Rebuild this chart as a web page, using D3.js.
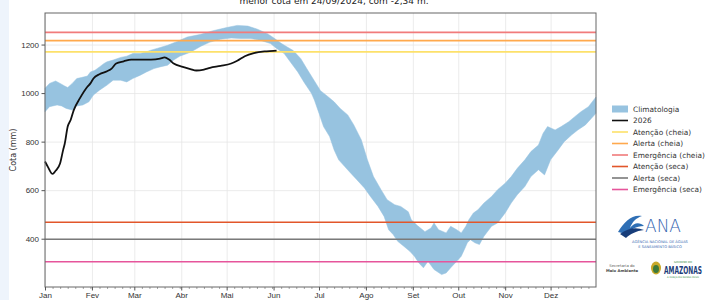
<!DOCTYPE html>
<html>
<head>
<meta charset="utf-8">
<script src="https://cdn.jsdelivr.net/npm/d3@7.9.0/dist/d3.min.js"></script>
<style>
  body { margin: 0; background: #fff; }
  svg { display: block; font-family: "DejaVu Sans", sans-serif; }
</style>
</head>
<body>
<svg id="chart" width="705" height="300"></svg>
<script>
// Climatologia band (day of year, cota mm)
const upperDays = [0,3,7,10,13,15,18,21,24,28,30,33,36,39,41,45,50,54,58,63,67,70,74,81,87,94,103,111,120,127,134,140,147,151,156,160,164,169,173,178,182,187,191,195,200,204,209,213,217,222,226,231,235,240,242,246,251,255,257,260,265,268,272,275,278,280,283,286,290,295,299,304,308,312,317,321,326,329,332,337,341,346,350,354,359,364];
const upperVals = [1020,1040,1050,1040,1029,1023,1040,1060,1064,1070,1087,1094,1108,1122,1129,1136,1147,1152,1163,1163,1170,1177,1184,1197,1212,1231,1242,1257,1270,1279,1276,1264,1245,1228,1205,1190,1175,1142,1100,1050,1010,985,964,937,910,869,807,725,656,602,561,540,533,511,478,454,429,444,465,437,424,451,437,424,451,478,506,519,547,574,602,629,656,690,725,759,786,834,862,848,862,882,903,923,944,984];
const lowerDays = [0,3,8,11,14,18,21,25,29,32,36,41,45,50,54,58,63,67,72,76,81,85,89,96,103,109,116,123,129,136,142,149,153,158,162,167,171,176,178,181,184,188,191,194,198,202,206,211,215,220,224,227,230,233,237,241,244,247,250,253,257,262,265,268,272,275,277,279,281,284,287,290,295,299,304,308,312,317,321,326,330,334,339,343,348,352,357,361,364];
const lowerVals = [923,944,951,947,937,930,947,951,964,992,1012,1033,1053,1053,1046,1060,1074,1087,1101,1108,1115,1136,1152,1168,1193,1210,1222,1227,1225,1225,1218,1204,1184,1163,1129,1087,1046,999,971,917,862,821,766,725,697,670,643,609,574,533,492,437,417,389,369,348,328,300,280,307,273,252,259,280,307,328,355,383,396,383,376,410,451,465,506,547,581,615,656,684,663,725,766,800,828,848,869,896,917];

// 2026 series
const obsDays = [0,2,5,7,10,12,13,15,17,19,23,28,30,32,36,41,44,47,52,57,63,70,76,79,82,85,91,96,100,105,109,116,123,127,132,138,145,151,153];
const obsVals = [718,695,667,680,711,766,790,862,890,930,978,1026,1040,1060,1078,1090,1101,1122,1131,1138,1138,1138,1142,1147,1138,1122,1108,1099,1093,1097,1104,1112,1122,1133,1152,1165,1172,1174,1175];

// Reference levels
const levelNames = ["Atenção (cheia)", "Alerta (cheia)", "Emergência (cheia)", "Atenção (seca)", "Alerta (seca)", "Emergência (seca)"];
const levelVals = [1170, 1216, 1250, 468, 398, 305];
const levelColors = ["#fde16a", "#ffa94d", "#f17b7b", "#e2562a", "#7a7a7a", "#e6559b"];

const monthLabels = ["Jan","Fev","Mar","Abr","Mai","Jun","Jul","Ago","Set","Out","Nov","Dez"];
const yTicks = [400, 600, 800, 1000, 1200];

const bandColor = "#97c3e0";
const start = new Date(2026, 0, 1);
const toDate = (d) => d3.timeDay.offset(start, d);

const margin = { top: 13, right: 109, bottom: 13, left: 45 };
const width = 705, height = 300;
const area = {
  left: margin.left,
  right: width - margin.right,
  top: margin.top,
  bottom: height - margin.bottom,
};

const svg = d3.select("#chart");

// light strip on the left edge
svg.append("rect").attr("x", 0).attr("y", 0).attr("width", 9).attr("height", height).attr("fill", "#eef4fc");

const xScale = d3.scaleTime()
  .domain([start, new Date(2026, 11, 31)])
  .range([area.left, area.right]);
const yScale = d3.scaleLinear()
  .domain([201, 1330])
  .range([area.bottom, area.top]);

// gridlines
svg.append("g")
  .attr("transform", `translate(0, ${area.bottom})`)
  .call(d3.axisBottom(xScale).ticks(d3.timeMonth.every(1)).tickFormat("").tickSize(-(area.bottom - area.top)))
  .call((g) => g.select(".domain").remove())
  .call((g) => g.selectAll("line").attr("stroke", "#e6e6e6").attr("stroke-width", 0.8));
svg.append("g")
  .attr("transform", `translate(${area.left}, 0)`)
  .call(d3.axisLeft(yScale).tickValues(yTicks).tickFormat("").tickSize(-(area.right - area.left)))
  .call((g) => g.select(".domain").remove())
  .call((g) => g.selectAll("line").attr("stroke", "#e6e6e6").attr("stroke-width", 0.8));

// climatology band
const upper = upperDays.map((d, i) => [d, upperVals[i]]);
const lower = lowerDays.map((d, i) => [d, lowerVals[i]]);
const bandLine = d3.line()
  .x((p) => xScale(toDate(p[0])))
  .y((p) => yScale(p[1]));
const bandPath = bandLine(upper) + "L" + bandLine(lower.slice().reverse()).slice(1) + "Z";
svg.append("path")
  .attr("d", bandPath)
  .attr("fill", bandColor)
  .attr("stroke", bandColor)
  .attr("stroke-width", 0.5);

// reference lines
svg.append("g")
  .selectAll("line")
  .data(levelVals)
  .join("line")
  .attr("x1", area.left)
  .attr("x2", area.right)
  .attr("y1", (d) => yScale(d))
  .attr("y2", (d) => yScale(d))
  .attr("stroke", (d, i) => levelColors[i])
  .attr("stroke-width", 1.6);

// 2026 line
svg.append("path")
  .datum(obsDays.map((d, i) => [d, obsVals[i]]))
  .attr("fill", "none")
  .attr("stroke", "#111")
  .attr("stroke-width", 1.8)
  .attr("stroke-linejoin", "round")
  .attr("d", d3.line()
    .x((p) => xScale(toDate(p[0])))
    .y((p) => yScale(p[1]))
    .curve(d3.curveMonotoneX));

// frame
svg.append("rect")
  .attr("x", area.left).attr("y", area.top)
  .attr("width", area.right - area.left).attr("height", area.bottom - area.top)
  .attr("fill", "none").attr("stroke", "#666").attr("stroke-width", 1);

// axes
const xAxis = svg.append("g")
  .attr("transform", `translate(0, ${area.bottom})`)
  .call(d3.axisBottom(xScale)
    .ticks(d3.timeMonth.every(1))
    .tickSize(3.5)
    .tickFormat((d) => monthLabels[d.getMonth()]));
xAxis.select(".domain").remove();
xAxis.selectAll("line").attr("stroke", "#555");
xAxis.selectAll("text").attr("font-size", 8).attr("fill", "#333").attr("dy", "0.6em");

const minor = svg.append("g")
  .attr("transform", `translate(0, ${area.bottom})`)
  .call(d3.axisBottom(xScale)
    .tickValues(d3.timeDay.every(5).range(start, new Date(2026, 11, 31)).filter((d) => d.getDate() !== 1))
    .tickSize(2)
    .tickFormat(""));
minor.select(".domain").remove();
minor.selectAll("line").attr("stroke", "#666").attr("stroke-width", 0.6);

const yAxis = svg.append("g")
  .attr("transform", `translate(${area.left}, 0)`)
  .call(d3.axisLeft(yScale).tickValues(yTicks).tickSize(3.5).tickPadding(2.5).tickFormat(d3.format("d")));
yAxis.select(".domain").remove();
yAxis.selectAll("line").attr("stroke", "#555");
yAxis.selectAll("text").attr("font-size", 8).attr("fill", "#333");

svg.append("text")
  .attr("transform", `translate(16, ${(area.top + area.bottom) / 2}) rotate(-90)`)
  .attr("text-anchor", "middle")
  .attr("font-size", 8)
  .attr("fill", "#333")
  .text("Cota (mm)");

// title (cut at top)
svg.append("text")
  .attr("x", 334).attr("y", 4)
  .attr("text-anchor", "middle")
  .attr("font-size", 9)
  .attr("fill", "#222")
  .text("menor cota em 24/09/2024, com -2,34 m.");

// legend
const legend = svg.append("g").attr("transform", "translate(612, 109)");
const legendNames = ["Climatologia", "2026"].concat(levelNames);
const legendColors = [bandColor, "#111"].concat(levelColors);
const rowH = 11.5;
legendNames.forEach((name, i) => {
  const y = i * rowH;
  if (i === 0) {
    legend.append("rect").attr("x", 0).attr("y", y - 3.5).attr("width", 16).attr("height", 7).attr("fill", bandColor);
  } else {
    legend.append("line").attr("x1", 0).attr("x2", 16).attr("y1", y).attr("y2", y)
      .attr("stroke", legendColors[i]).attr("stroke-width", 1.6);
  }
  legend.append("text").attr("x", 21).attr("y", y).attr("dy", "0.35em")
    .attr("font-size", 7.4).attr("fill", "#333").text(name);
});

// logos (approximate)
const logo = svg.append("g");
logo.append("path")
  .attr("d", "M618,232 C624,222 632,214 642,216 C636,218 632,222 630,228 C634,222 640,222 644,226 C636,226 630,230 626,234 Z")
  .attr("fill", "#2f6fb5");
logo.append("path")
  .attr("d", "M620,234 C628,228 636,227 644,230 C636,231 630,234 626,238 Z")
  .attr("fill", "#173d7a");
logo.append("text").attr("x", 663).attr("y", 232).attr("text-anchor", "middle")
  .attr("font-size", 17).attr("font-weight", 300).attr("fill", "#3566b0").text("ANA");
logo.append("text").attr("x", 660).attr("y", 243).attr("text-anchor", "middle")
  .attr("font-size", 3.6).attr("fill", "#3566b0").text("AGÊNCIA NACIONAL DE ÁGUAS");
logo.append("text").attr("x", 660).attr("y", 248).attr("text-anchor", "middle")
  .attr("font-size", 3.6).attr("fill", "#3566b0").text("E SANEAMENTO BÁSICO");
logo.append("text").attr("x", 622).attr("y", 267).attr("text-anchor", "middle")
  .attr("font-size", 3.8).attr("fill", "#555").text("Secretaria do");
logo.append("text").attr("x", 622).attr("y", 272).attr("text-anchor", "middle")
  .attr("font-size", 3.8).attr("font-weight", "bold").attr("fill", "#444").text("Meio Ambiente");
logo.append("ellipse").attr("cx", 656).attr("cy", 268).attr("rx", 5).attr("ry", 6.5).attr("fill", "#c9a92a");
logo.append("ellipse").attr("cx", 656).attr("cy", 269).attr("rx", 3).attr("ry", 4).attr("fill", "#3d7a3a");
logo.append("text").attr("x", 683).attr("y", 263).attr("text-anchor", "middle")
  .attr("font-size", 2.6).attr("fill", "#2a8a3a").text("GOVERNO DO");
logo.append("text").attr("x", 664).attr("y", 273.5)
  .attr("font-size", 10).attr("font-weight", "bold").attr("fill", "#1d3d7a")
  .attr("textLength", 38).attr("lengthAdjust", "spacingAndGlyphs")
  .text("AMAZONAS");
logo.append("text").attr("x", 683).attr("y", 277.5).attr("text-anchor", "middle")
  .attr("font-size", 2.4).attr("fill", "#2a8a3a").text("A FORÇA DO NOSSO POVO");
</script>
</body>
</html>
